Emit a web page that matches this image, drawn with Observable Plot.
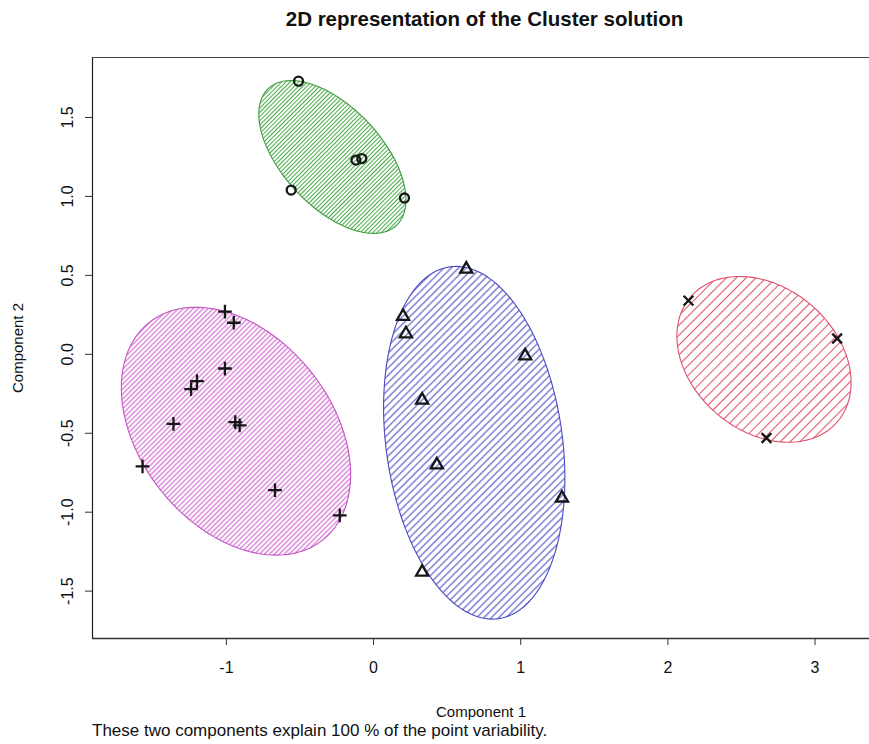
<!DOCTYPE html>
<html>
<head>
<meta charset="utf-8">
<script src="https://cdn.jsdelivr.net/npm/d3@7"></script>
<script src="https://cdn.jsdelivr.net/npm/@observablehq/plot@0.6"></script>
<style>
  body { margin: 0; background: #fff; font-family: "Liberation Sans", Arial, Helvetica, sans-serif; color: #111; }
  #title { height: 38px; line-height: 38px; width: 769px; padding-left: 100px; text-align: center; font-weight: bold; font-size: 20.5px; }
  #caption { padding-left: 92px; font-size: 17px; line-height: 18px; }
  svg { display: block; }
</style>
</head>
<body>
<div id="title">2D representation of the Cluster solution</div>
<div id="chart"></div>
<div id="caption">These two components explain 100 % of the point variability.</div>
<script>
// Cluster observations projected on the first two components
const circleX = [-0.51, -0.56, -0.12, -0.08, 0.21];
const circleY = [1.73, 1.04, 1.23, 1.24, 0.99];

const triangleX = [0.63, 0.20, 0.22, 1.03, 0.33, 0.43, 1.28, 0.33];
const triangleY = [0.54, 0.24, 0.13, -0.01, -0.29, -0.70, -0.91, -1.38];

const plusX = [-1.01, -0.95, -1.01, -1.20, -1.24, -1.36, -0.94, -0.91, -1.57, -0.67, -0.23];
const plusY = [0.27, 0.20, -0.09, -0.17, -0.22, -0.44, -0.43, -0.45, -0.71, -0.86, -1.02];

const timesX = [2.14, 3.15, 2.67];
const timesY = [0.34, 0.10, -0.53];

// Cluster ellipses: centre, half extent along each axis, and x–y correlation
const clusterNames = ["circle", "triangle", "plus", "times"];
const ellipseCx  = [-0.28, 0.684, -0.935, 2.653];
const ellipseCy  = [1.25, -0.56, -0.487, -0.032];
const ellipseHx  = [0.50, 0.616, 0.779, 0.592];
const ellipseHy  = [0.484, 1.117, 0.785, 0.525];
const ellipseRho = [-0.56, -0.20, -0.35, -0.28];

// Shading colours and hatch spacing per cluster
const outlineColors = ["#3f9c3f", "#4848c2", "#c452c4", "#df4f6c"];
const hatchColors   = ["#4fab4f", "#5050c8", "#d062d0", "#e2566f"];
const hatchSpacing  = [3.0, 5.2, 3.5, 7.0];

const xTicks = [-1, 0, 1, 2, 3];
const yTicks = [-1.5, -1.0, -0.5, 0.0, 0.5, 1.0, 1.5];
const xDomain = [-1.91, 3.37];
const yDomain = [-1.80, 1.88];
const xLabel = "Component 1";
const yLabel = "Component 2";

const pointSets = [
  {symbol: "circle", xs: circleX, ys: circleY},
  {symbol: "triangle", xs: triangleX, ys: triangleY},
  {symbol: "plus", xs: plusX, ys: plusY},
  {symbol: "times", xs: timesX, ys: timesY}
];

// Outline of each ellipse as a closed path in data space
function ellipsePath(i) {
  const n = 160;
  const s = Math.sqrt(1 - ellipseRho[i] ** 2);
  return d3.range(n + 1).map(k => {
    const t = (2 * Math.PI * k) / n;
    return {
      x: ellipseCx[i] + ellipseHx[i] * Math.cos(t),
      y: ellipseCy[i] + ellipseHy[i] * (ellipseRho[i] * Math.cos(t) + s * Math.sin(t))
    };
  });
}

const ellipseMarks = clusterNames.map((name, i) =>
  Plot.line(ellipsePath(i), {
    x: "x", y: "y",
    stroke: outlineColors[i], strokeWidth: 1.1,
    fill: `url(#hatch-${name})`
  })
);

const dotMarks = pointSets.map(p =>
  Plot.dot(p.xs.map((x, j) => ({x, y: p.ys[j]})), {
    x: "x", y: "y", symbol: p.symbol, r: 4.5,
    stroke: "#161616", strokeWidth: 2.3, fill: "none"
  })
);

const chart = Plot.plot({
  width: 869,
  height: 684,
  marginLeft: 92, marginRight: 0, marginTop: 19, marginBottom: 84,
  x: {domain: xDomain},
  y: {domain: yDomain},
  style: {fontFamily: "'Liberation Sans', Arial, Helvetica, sans-serif", fontSize: "16px", color: "#111", background: "#fff", overflow: "visible"},
  marks: [
    ...ellipseMarks,
    ...dotMarks,
    // box on the left, top and bottom sides
    Plot.ruleX([xDomain[0]], {stroke: "#222", strokeWidth: 1.2}),
    Plot.ruleY([yDomain[1]], {stroke: "#444", strokeWidth: 1.2}),
    Plot.ruleY([yDomain[0]], {stroke: "#333", strokeWidth: 1.4}),
    Plot.axisX({
      ticks: xTicks, tickFormat: d => String(d), tickSize: 7, tickPadding: 16,
      fontSize: 16, stroke: "#333", label: null
    }),
    Plot.text([xLabel], {
      text: d => d, frameAnchor: "bottom", dy: 74, lineAnchor: "middle",
      fontSize: 15, fill: "#111"
    }),
    Plot.axisY({
      ticks: yTicks, tickFormat: d => d.toFixed(1), tickSize: 7, tickPadding: 13, tickRotate: -90,
      stroke: "#333", fontSize: 16, label: null
    }),
    Plot.text([yLabel], {
      text: d => d, frameAnchor: "left", textAnchor: "middle", dx: -74, rotate: -90, lineAnchor: "middle",
      fontSize: 15, fill: "#111"
    })
  ]
});

// Diagonal hatch patterns used to shade the ellipses
const defs = d3.select(chart).insert("defs", ":first-child");
clusterNames.forEach((name, i) => {
  const s = hatchSpacing[i];
  const pat = defs.append("pattern")
    .attr("id", `hatch-${name}`)
    .attr("patternUnits", "userSpaceOnUse")
    .attr("width", 20).attr("height", s)
    .attr("patternTransform", "rotate(-45)");
  pat.append("line")
    .attr("x1", 0).attr("x2", 20)
    .attr("y1", s / 2).attr("y2", s / 2)
    .attr("stroke", hatchColors[i])
    .attr("stroke-width", 1.1);
});

document.getElementById("chart").append(chart);
</script>
</body>
</html>
